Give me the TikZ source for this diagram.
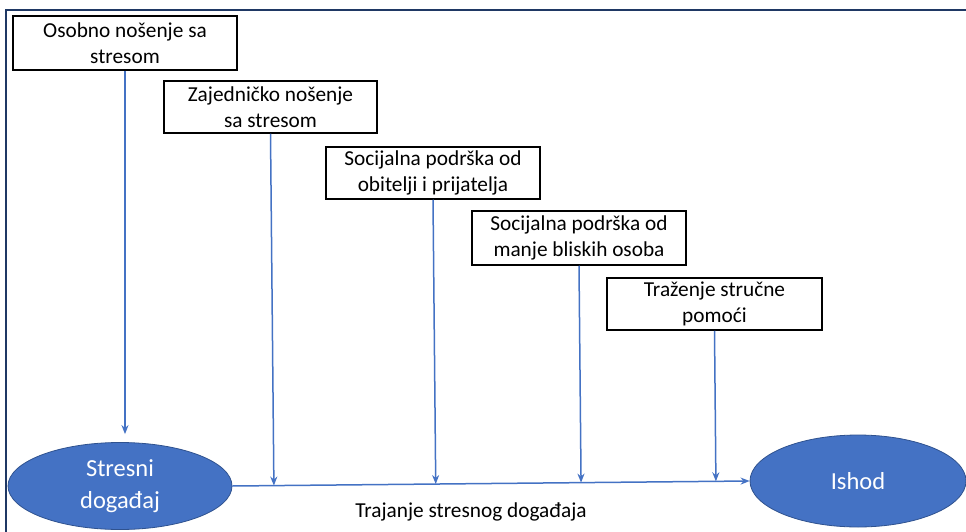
\documentclass[tikz,border=0pt]{standalone}
\usepackage{fontspec}
\setmainfont{Carlito}
\usetikzlibrary{arrows.meta,shapes.geometric,calc}
\definecolor{frameblue}{HTML}{1F3864}
\definecolor{accent}{HTML}{4472C4}
\definecolor{accentdark}{HTML}{2F528F}
\begin{document}
\begin{tikzpicture}[x=1pt,y=-1pt,
  stage/.style={draw=black, line width=1.5pt, fill=white, rectangle,
    inner sep=0pt, align=center, font=\fontsize{21.3}{26}\selectfont},
  event/.style={ellipse, draw=accentdark, line width=0.8pt, fill=accent,
    text=white, inner sep=0pt, align=center, font=\fontsize{24.5}{32}\selectfont},
  flow/.style={draw=accent, line width=1.5pt, -{Stealth[length=9pt,width=7pt]}}]
\useasboundingbox (0,0) rectangle (966,532);
\fill[white] (0,0) rectangle (966,532);
% slide frame
\draw[frameblue, line width=2.8pt] (6,532) -- (6,10) -- (966,10);

% coping strategies
\node[stage, minimum width=224pt, minimum height=54pt] (b1) at (125,43) {Osobno nošenje sa\\stresom};
\node[stage, minimum width=213pt, minimum height=52pt] (b2) at (270.5,107) {Zajedničko nošenje\\sa stresom};
\node[stage, minimum width=214pt, minimum height=52pt] (b3) at (433,173) {Socijalna podrška od\\obitelji i prijatelja};
\node[stage, minimum width=214pt, minimum height=54pt] (b4) at (579,238) {Socijalna podrška od\\manje bliskih osoba};
\node[stage, minimum width=215pt, minimum height=52pt] (b5) at (714.5,304) {Traženje stručne\\pomoći};

% start and end events
\node[event, minimum width=224pt, minimum height=87pt] (s) at (120,486) {Stresni\\događaj};
\node[event, minimum width=216pt, minimum height=92pt] (i) at (858,481) {Ishod};

% time line
\draw[flow] (s.east) -- (i.west);
\node[font=\fontsize{21.3}{26}\selectfont] (lbl) at (471,512) {Trajanje stresnog događaja};

% strategy arrows
\draw[flow] (b1.south) -- ([yshift=8pt]b1.south |- s.north);
\draw[flow] (b2.south) -- ($(s.east)!(b2.south)!(i.west)$);
\draw[flow] (b3.south) -- ($(s.east)!(b3.south)!(i.west)$);
\draw[flow] (b4.south) -- ($(s.east)!(b4.south)!(i.west)$);
\draw[flow] (b5.south) -- ($(s.east)!(b5.south)!(i.west)$);
\end{tikzpicture}
\end{document}
